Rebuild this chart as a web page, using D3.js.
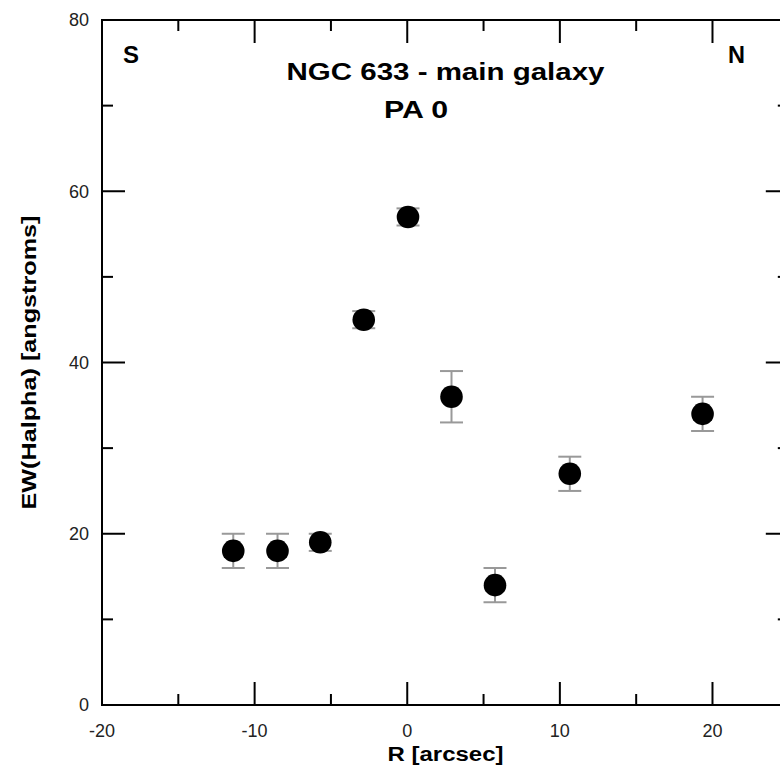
<!DOCTYPE html>
<html>
<head>
<meta charset="utf-8">
<script src="https://cdn.jsdelivr.net/npm/d3@7"></script>
<style>
  html, body { margin: 0; padding: 0; background: #fff; }
  svg { display: block; }
  text { font-family: Arial, "Liberation Sans", sans-serif; }
</style>
</head>
<body>
<svg id="chart" width="780" height="772"></svg>
<script>
// ---- data ----
const radius = [-11.4, -8.5, -5.7, -2.85, 0.05, 2.9, 5.75, 10.65, 19.35];
const ewHalpha = [18, 18, 19, 45, 57, 36, 14, 27, 34];
const ewError = [2, 2, 1, 1, 1, 3, 2, 2, 2];
const xTickValues = [-20, -15, -10, -5, 0, 5, 10, 15, 20, 25];
const yTickValues = [0, 10, 20, 30, 40, 50, 60, 70, 80];
const titleLines = ["NGC 633 - main galaxy", "PA 0"];
const xLabel = "R [arcsec]";
const yLabel = "EW(Halpha) [angstroms]";

(function () {
// ---- layout ----
const svg = d3.select("#chart");
const pLeft = 102, pRight = 788.8, pTop = 20, pBottom = 705;
const x = d3.scaleLinear().domain([-20, 25]).range([pLeft, pRight]);
const y = d3.scaleLinear().domain([0, 80]).range([pBottom, pTop]);

const isMajorX = v => v % 10 === 0;
const isMajorY = v => v % 20 === 0;
const majorLen = 23, minorLen = 11;

// frame
svg.append("rect")
  .attr("x", pLeft).attr("y", pTop)
  .attr("width", pRight - pLeft).attr("height", pBottom - pTop)
  .attr("fill", "none").attr("stroke", "#000").attr("stroke-width", 2);

// ticks (inward on all four sides)
const tg = svg.append("g").attr("stroke", "#000").attr("stroke-width", 2);
xTickValues.forEach(v => {
  const len = isMajorX(v) ? majorLen : minorLen;
  tg.append("line").attr("x1", x(v)).attr("x2", x(v)).attr("y1", pBottom).attr("y2", pBottom - len);
  tg.append("line").attr("x1", x(v)).attr("x2", x(v)).attr("y1", pTop).attr("y2", pTop + len);
});
yTickValues.forEach(v => {
  const len = isMajorY(v) ? majorLen : minorLen;
  tg.append("line").attr("y1", y(v)).attr("y2", y(v)).attr("x1", pLeft).attr("x2", pLeft + len);
  tg.append("line").attr("y1", y(v)).attr("y2", y(v)).attr("x1", pRight).attr("x2", pRight - len);
});

// tick labels
svg.append("g").selectAll("text")
  .data(xTickValues.filter(v => isMajorX(v)))
  .join("text")
  .attr("x", d => x(d)).attr("y", 737)
  .attr("text-anchor", "middle")
  .attr("font-size", 18).attr("fill", "#222")
  .text(d => d);

svg.append("g").selectAll("text")
  .data(yTickValues.filter(v => isMajorY(v)))
  .join("text")
  .attr("x", 89).attr("y", d => y(d))
  .attr("dy", "0.36em")
  .attr("text-anchor", "end")
  .attr("font-size", 18).attr("fill", "#222")
  .text(d => d);

// axis labels
svg.append("text")
  .attr("x", 445.5).attr("y", 761)
  .attr("text-anchor", "middle")
  .attr("font-size", 20).attr("font-weight", "bold")
  .attr("textLength", 116).attr("lengthAdjust", "spacingAndGlyphs")
  .text(xLabel);

svg.append("text")
  .attr("transform", "translate(36," + ((pTop + pBottom) / 2) + ") rotate(-90)")
  .attr("text-anchor", "middle")
  .attr("font-size", 20).attr("font-weight", "bold")
  .attr("textLength", 294).attr("lengthAdjust", "spacingAndGlyphs")
  .text(yLabel);

// titles
svg.append("text")
  .attr("x", 445.5).attr("y", 80)
  .attr("text-anchor", "middle")
  .attr("font-size", 23).attr("font-weight", "bold")
  .attr("textLength", 318).attr("lengthAdjust", "spacingAndGlyphs")
  .text(titleLines[0]);
svg.append("text")
  .attr("x", 416).attr("y", 118)
  .attr("text-anchor", "middle")
  .attr("font-size", 23).attr("font-weight", "bold")
  .attr("textLength", 64).attr("lengthAdjust", "spacingAndGlyphs")
  .text(titleLines[1]);

// S / N
svg.append("text").attr("x", 123).attr("y", 63)
  .attr("font-size", 23).attr("font-weight", "bold")
  .attr("textLength", 16).attr("lengthAdjust", "spacingAndGlyphs").text("S");
svg.append("text").attr("x", 728).attr("y", 63)
  .attr("font-size", 23).attr("font-weight", "bold")
  .attr("textLength", 17).attr("lengthAdjust", "spacingAndGlyphs").text("N");

// data
const pts = radius.map((r, i) => ({ r, v: ewHalpha[i], e: ewError[i] }));
const capHalf = 11.5;
const eg = svg.append("g").attr("stroke", "#999").attr("stroke-width", 2);
pts.forEach(d => {
  eg.append("line").attr("x1", x(d.r)).attr("x2", x(d.r)).attr("y1", y(d.v - d.e)).attr("y2", y(d.v + d.e));
  eg.append("line").attr("x1", x(d.r) - capHalf).attr("x2", x(d.r) + capHalf).attr("y1", y(d.v + d.e)).attr("y2", y(d.v + d.e));
  eg.append("line").attr("x1", x(d.r) - capHalf).attr("x2", x(d.r) + capHalf).attr("y1", y(d.v - d.e)).attr("y2", y(d.v - d.e));
});
svg.append("g").selectAll("circle")
  .data(pts)
  .join("circle")
  .attr("cx", d => x(d.r)).attr("cy", d => y(d.v))
  .attr("r", 11.3).attr("fill", "#000");
})();
</script>
</body>
</html>
